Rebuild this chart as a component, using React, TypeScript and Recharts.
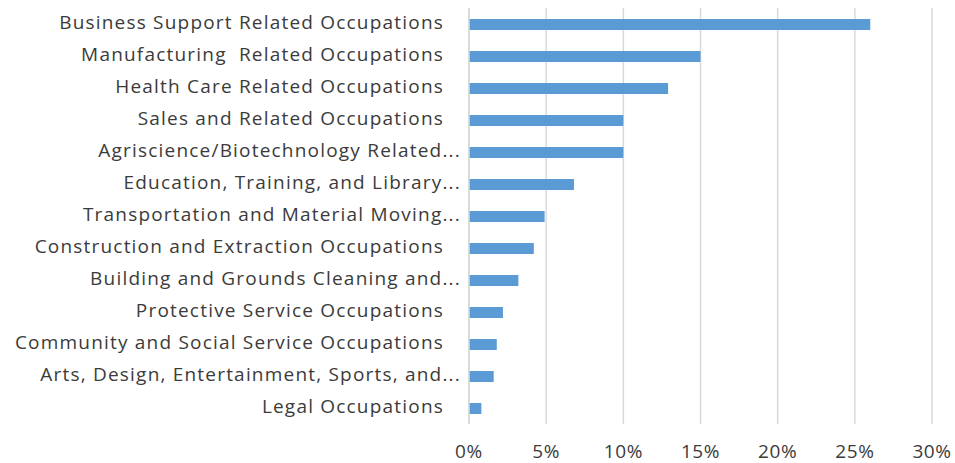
import { BarChart, Bar, XAxis, YAxis, CartesianGrid } from 'recharts'

// occupation categories, top to bottom as shown
const categories = [
  'Business Support Related Occupations',
  'Manufacturing  Related Occupations',
  'Health Care Related Occupations',
  'Sales and Related Occupations',
  'Agriscience/Biotechnology Related...',
  'Education, Training, and Library...',
  'Transportation and Material Moving...',
  'Construction and Extraction Occupations',
  'Building and Grounds Cleaning and...',
  'Protective Service Occupations',
  'Community and Social Service Occupations',
  'Arts, Design, Entertainment, Sports, and...',
  'Legal Occupations',
]

// share of students, percent
const shares = [26, 15, 12.9, 10, 10, 6.8, 4.9, 4.2, 3.2, 2.2, 1.8, 1.6, 0.8]

const xTicks = [0, 5, 10, 15, 20, 25, 30]

const data = categories.map((name, i) => ({ name, value: shares[i] }))

const FONT = '"Open Sans", sans-serif'

function CategoryTick(props: any) {
  const { x, y, payload } = props
  const label: string = payload.value
  // full labels sit a bit further left than the truncated ones (trailing space in source)
  const offset = label.endsWith('...') ? 8 : 25
  return (
    <text
      x={x - offset}
      y={y}
      dy="0.28em"
      textAnchor="end"
      fill="#3b3b3b"
      fontSize={19}
      fontFamily={FONT}
      letterSpacing={1.2}
      style={{ whiteSpace: 'pre' }}
    >
      {label}
    </text>
  )
}

export default function App() {
  return (
    <div style={{ position: 'absolute', left: 0, top: 0, background: '#fff' }}>
      <BarChart
        width={955}
        height={463}
        data={data}
        layout="vertical"
        margin={{ top: 8, right: 23, bottom: 0, left: 0 }}
      >
        <CartesianGrid horizontal={false} stroke="#d9d9d9" strokeWidth={1.5} />
        <XAxis
          type="number"
          domain={[0, 30]}
          ticks={xTicks}
          tickFormatter={(v) => `${v}%`}
          axisLine={false}
          tickLine={false}
          height={39}
          tickSize={0}
          tickMargin={21}
          tick={{ fill: '#3b3b3b', fontSize: 19, fontFamily: FONT, letterSpacing: 0.6 }}
          interval={0}
        />
        <YAxis
          type="category"
          dataKey="name"
          width={469}
          axisLine={{ stroke: '#d9d9d9', strokeWidth: 1.5 }}
          tickLine={false}
          tickSize={0}
          tickMargin={0}
          interval={0}
          tick={<CategoryTick />}
        />
        <Bar dataKey="value" fill="#5b9bd5" barSize={11} isAnimationActive={false} />
      </BarChart>
    </div>
  )
}
